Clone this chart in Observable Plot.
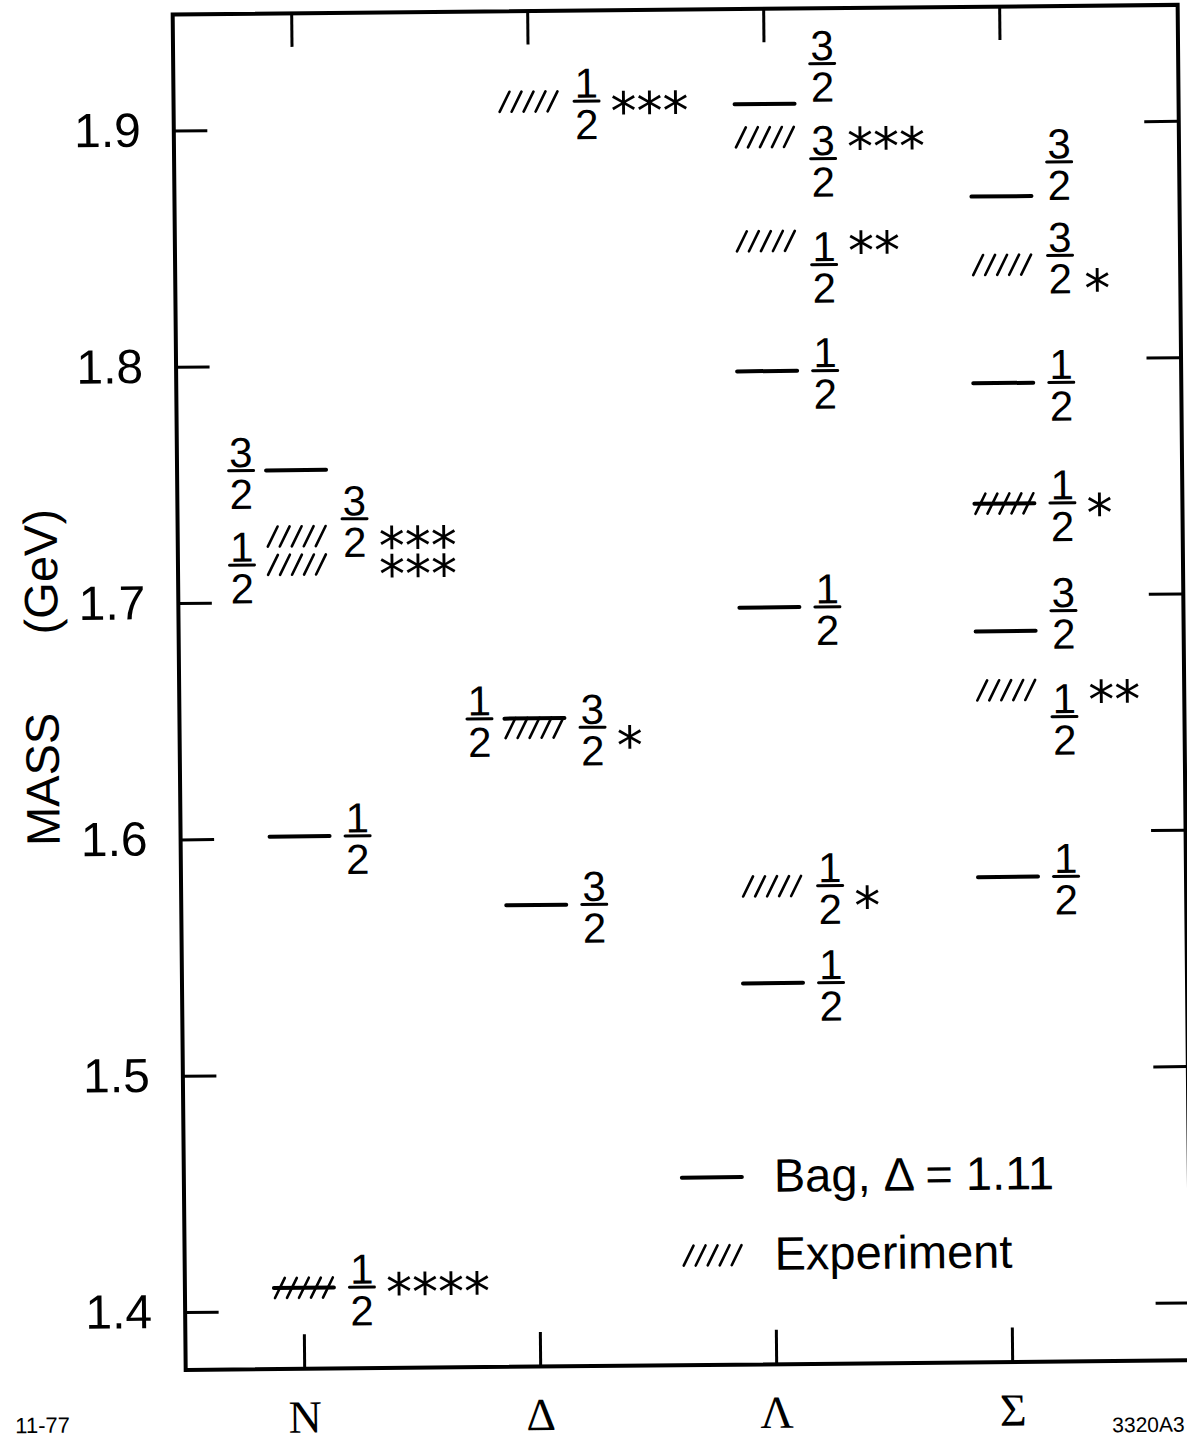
<!DOCTYPE html>
<html><head><meta charset="utf-8">
<script src="https://cdn.jsdelivr.net/npm/d3@7"></script>
<script src="https://cdn.jsdelivr.net/npm/@observablehq/plot@0.6"></script>
<style>
html,body{margin:0;padding:0;background:#fff;}
#chart{width:1187px;height:1445px;overflow:hidden;background:#fff;}
#chart svg{display:block;transform:rotate(-0.55deg);transform-origin:50% 50%;}
#chart g[aria-label="stars"] text{letter-spacing:5px;}
</style></head><body><div id="chart"></div>
<script>
// ---------------- data ----------------
const categories = ["N", "Δ", "Λ", "Σ"];
const massTicks = [1.4, 1.5, 1.6, 1.7, 1.8, 1.9];

// Bag model, Δ = 1.11
const bagParticle = ["N", "N", "N", "Δ", "Δ", "Λ", "Λ", "Λ", "Λ", "Σ", "Σ", "Σ", "Σ", "Σ"];
const bagMass     = [1.756, 1.601, 1.410, 1.650, 1.571, 1.909, 1.796, 1.696, 1.537, 1.869, 1.790, 1.739, 1.685, 1.581];
const bagSpin     = ["3/2", "1/2", "1/2", "1/2", "3/2", "3/2", "1/2", "1/2", "1/2", "3/2", "1/2", "1/2", "3/2", "1/2"];

// Experiment
const expParticle = ["N", "N", "N", "Δ", "Δ", "Λ", "Λ", "Λ", "Σ", "Σ", "Σ"];
const expMass     = [1.728, 1.716, 1.410, 1.911, 1.646, 1.895, 1.851, 1.578, 1.840, 1.739, 1.660];
const expSpin     = ["3/2", "1/2", "1/2", "1/2", "3/2", "3/2", "1/2", "1/2", "3/2", "1/2", "1/2"];
const expStars    = ["***", "***", "****", "***", "*", "***", "**", "*", "*", "*", "**"];

const legendItems = ["Bag, Δ = 1.11", "Experiment"];
const axisTitle = "MASS\u00a0\u00a0\u00a0\u00a0\u00a0\u00a0(GeV)";
const footLeft = "11-77";
const footRight = "3320A3";

// ---------------- layout ----------------
const W = 1187, H = 1445;
const M = {top: 10, right: 3, bottom: 79.5, left: 179};
const frameW = W - M.left - M.right, frameH = H - M.top - M.bottom;
const tickLen = 34;
const sans = "Liberation Sans, Arial, sans-serif";
const serif = "Liberation Serif, Times New Roman, serif";

// label placement (px, relative to the level line)
const bagLabelLeft = new Set([0, 3]);
const bagBarShift = {5: -40, 9: -34, 12: -20};
const expFracLeft = new Set([1]);
const expBarShift = {0: -17, 5: 22, 6: 24, 8: -9, 10: 27};
const expStarShift = {2: -5, 4: 8, 7: 10, 8: 14};

const bag = bagMass.map((mass, i) => ({particle: bagParticle[i], mass, spin: bagSpin[i], i}));
const exp = expMass.map((mass, i) => ({particle: expParticle[i], mass, spin: expSpin[i], stars: expStars[i], i}));

const labels = [];
bag.forEach(d => {
  if (exp.some(e => e.particle === d.particle && e.mass === d.mass)) return;
  labels.push({...d, side: bagLabelLeft.has(d.i) ? -1 : 1, shift: bagBarShift[d.i] || 0});
});
exp.forEach(d => labels.push({...d, side: expFracLeft.has(d.i) ? -1 : 1, shift: expBarShift[d.i] || 0}));
const starItems = exp.map(d => ({...d, shift: expStarShift[d.i] || 0}));

// custom symbols (fixed pixel geometry)
const segment = w => ({draw(ctx) { ctx.moveTo(-w / 2, 0); ctx.lineTo(w / 2, 0); }});
const hatch = {draw(ctx) { for (const c of [-24, -12, 0, 12, 24]) { ctx.moveTo(c - 5, 10); ctx.lineTo(c + 5, -10); } }};

const lineStyle = {fill: "none", stroke: "black", strokeLinecap: "round"};

const fractionMarks = [];
for (const [side, shift, items] of d3.flatGroup(labels, d => d.side, d => d.shift)) {
  const dx = side < 0 ? -55 : 58;
  fractionMarks.push(
    Plot.text(items, {x: "particle", y: "mass", text: d => d.spin.replace("/", "\n"), dx, dy: shift + 4,
      lineHeight: 0.99, fontFamily: sans, fontSize: 42, fill: "black", lineAnchor: "middle", textAnchor: "middle"}),
    Plot.dot(items, {x: "particle", y: "mass", symbol: segment(25), dx, dy: shift, ...lineStyle, strokeWidth: 3})
  );
}
const starMarks = [];
for (const [shift, items] of d3.flatGroup(starItems, d => d.shift)) {
  starMarks.push(Plot.text(items, {x: "particle", y: "mass", text: "stars", dx: 82, dy: shift + 12,
    textAnchor: "start", lineAnchor: "middle", fontFamily: "DejaVu Sans, sans-serif", fontSize: 52,
    fill: "black", ariaLabel: "stars"}));
}

const chart = Plot.plot({
  width: W, height: H,
  marginTop: M.top, marginRight: M.right, marginBottom: M.bottom, marginLeft: M.left,
  style: {fontFamily: sans, background: "white", color: "black", overflow: "visible"},
  x: {type: "point", domain: categories, range: [298, 1006], padding: 0},
  y: {domain: [1.3757, 1.9493]},
  marks: [
    Plot.frame({stroke: "black", strokeWidth: 4}),
    // inward ticks
    Plot.ruleY(massTicks, {y: d => d, insetRight: frameW - tickLen, stroke: "black", strokeWidth: 3}),
    Plot.ruleY(massTicks, {y: d => d, insetLeft: frameW - tickLen, stroke: "black", strokeWidth: 3}),
    Plot.ruleX(categories, {x: d => d, insetBottom: frameH - tickLen, stroke: "black", strokeWidth: 3}),
    Plot.ruleX(categories, {x: d => d, insetTop: frameH - tickLen, stroke: "black", strokeWidth: 3}),
    Plot.axisY(massTicks, {anchor: "left", tickSize: 0, tickPadding: 33, tickFormat: d => d.toFixed(1),
      fontSize: 48, fontFamily: sans, label: null}),
    Plot.axisX(categories, {anchor: "bottom", tickSize: 0, tickPadding: 31, fontSize: 46, fontFamily: serif, label: null}),
    Plot.text([axisTitle], {frameAnchor: "left", text: d => d, rotate: -90, dx: -136, dy: -16,
      textAnchor: "middle", lineAnchor: "middle", fontSize: 47, fontFamily: sans, fill: "black"}),
    // levels
    Plot.dot(bag, {x: "particle", y: "mass", symbol: segment(60), ...lineStyle, strokeWidth: 4}),
    Plot.dot(exp, {x: "particle", y: "mass", symbol: hatch, ...lineStyle, strokeWidth: 2.6}),
    ...fractionMarks,
    ...starMarks,
    // legend
    Plot.dot([legendItems[0]], {frameAnchor: "bottom-left", dx: 528, dy: -187.5, symbol: segment(60), ...lineStyle, strokeWidth: 4}),
    Plot.dot([legendItems[1]], {frameAnchor: "bottom-left", dx: 528, dy: -109.5, symbol: hatch, ...lineStyle, strokeWidth: 2.6}),
    Plot.text([legendItems[0]], {frameAnchor: "bottom-left", text: d => d, dx: 590, dy: -187.5, textAnchor: "start", lineAnchor: "middle", fontSize: 47, fill: "black"}),
    Plot.text([legendItems[1]], {frameAnchor: "bottom-left", text: d => d, dx: 590, dy: -109.5, textAnchor: "start", lineAnchor: "middle", fontSize: 47, fill: "black"}),
    // footnotes
    Plot.text([footLeft], {frameAnchor: "bottom-left", text: d => d, dx: -171, dy: 54.5, textAnchor: "start", lineAnchor: "middle", fontSize: 22, fill: "black"}),
    Plot.text([footRight], {frameAnchor: "bottom-right", text: d => d, dx: -79, dy: 64.5, textAnchor: "start", lineAnchor: "middle", fontSize: 21, fill: "black"})
  ]
});
document.getElementById("chart").appendChild(chart);
</script></body></html>
